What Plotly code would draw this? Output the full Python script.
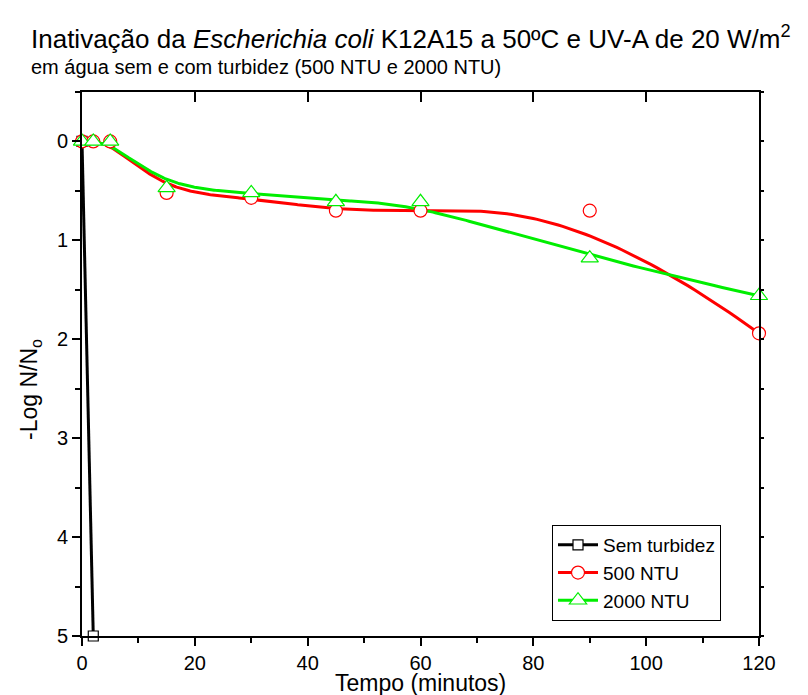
import numpy as np
import plotly.graph_objects as go

# Exposure time (minutes) and inactivation (-log N/No)
t_sem = [0, 2]
y_sem = [0, 5]

t_500 = [0, 2, 5, 15, 30, 45, 60, 90, 120]
y_500 = [0, 0, 0, 0.52, 0.57, 0.70, 0.70, 0.70, 1.94]

t_2000 = [0, 2, 5, 15, 30, 45, 60, 90, 120]
y_2000 = [0, 0, 0, 0.47, 0.52, 0.61, 0.61, 1.18, 1.56]

x_ticks = [0, 20, 40, 60, 80, 100, 120]
y_ticks = [0, 1, 2, 3, 4, 5]

FONT = "Liberation Sans"

# plot area in pixels
L, R, T, B = 82, 759, 92, 636
PW, PH = R - L, B - T


def px_x(p):
    return (p - L) / PW


def px_y(p):
    return (B - p) / PH


def bspline(xs, ys, degree=3, n=400):
    """Clamped uniform B-spline using the data points as control points."""
    P = np.column_stack([xs, ys]).astype(float)
    m = len(P)
    k = min(degree, m - 1)
    inner = np.arange(1, m - k) / (m - k)
    knots = np.concatenate([np.zeros(k + 1), inner, np.ones(k + 1)])
    u = np.linspace(0, 1, n)
    # Cox-de Boor recursion
    N = np.zeros((n, len(knots) - 1))
    for i in range(len(knots) - 1):
        N[:, i] = (u >= knots[i]) & (u < knots[i + 1])
    N[-1, m - 1] = 1.0
    for d in range(1, k + 1):
        Nn = np.zeros((n, len(knots) - 1 - d))
        for i in range(len(knots) - 1 - d):
            a = knots[i + d] - knots[i]
            b = knots[i + d + 1] - knots[i + 1]
            left = (u - knots[i]) / a * N[:, i] if a > 0 else 0
            right = (knots[i + d + 1] - u) / b * N[:, i + 1] if b > 0 else 0
            Nn[:, i] = left + right
        N = Nn
    C = N[:, :m] @ P
    return C[:, 0], C[:, 1]


fig = go.Figure()

series = [
    ("Sem turbidez", t_sem, y_sem, "black", "square", 10, False),
    ("500 NTU", t_500, y_500, "#ff0000", "circle", 13, True),
    ("2000 NTU", t_2000, y_2000, "#00ee00", "triangle-up", 15, True),
]

for name, xs, ys, col, sym, size, smooth in series:
    if smooth:
        cx, cy = bspline(xs, ys)
    else:
        cx, cy = xs, ys
    fig.add_trace(go.Scatter(x=cx, y=cy, mode="lines", showlegend=False,
                             line=dict(color=col, width=3), hoverinfo="skip"))

for name, xs, ys, col, sym, size, smooth in series:
    fig.add_trace(go.Scatter(x=xs, y=ys, mode="markers", showlegend=False,
                             marker=dict(symbol=sym, size=size, color="white",
                                         line=dict(color=col, width=1.2)),
                             cliponaxis=False))
    # legend entry (line + marker)
    fig.add_trace(go.Scatter(x=[None], y=[None], mode="lines+markers", name=name,
                             line=dict(color=col, width=3),
                             marker=dict(symbol=sym, size=size, color="white",
                                         line=dict(color=col, width=1.2))))

axis_common = dict(showgrid=False, zeroline=False, linecolor="black", linewidth=2,
                   tickcolor="black", tickwidth=2,
                   tickfont=dict(family=FONT, size=20, color="black"))

fig.update_layout(
    width=808, height=695,
    margin=dict(l=L, r=808 - R, t=T, b=695 - B),
    paper_bgcolor="white", plot_bgcolor="white",
    font=dict(family=FONT, color="black"),
    xaxis=dict(range=[0, 120], tickvals=x_ticks, ticks="outside", ticklen=8,
               minor=dict(dtick=10, ticks="outside", ticklen=5, tickwidth=2, tickcolor="black"),
               showline=True, **axis_common),
    yaxis=dict(range=[5, -0.5], tickvals=y_ticks, ticks="outside", ticklen=8,
               minor=dict(dtick=0.5, ticks="outside", ticklen=5, tickwidth=2, tickcolor="black"),
               showline=True, **axis_common),
    xaxis2=dict(range=[0, 120], overlaying="x", side="top", tickvals=x_ticks,
                ticks="inside", ticklen=10, showticklabels=False, showline=True,
                **axis_common),
    yaxis2=dict(range=[5, -0.5], overlaying="y", side="right", tickvals=y_ticks,
                ticks="outside", ticklen=3, showticklabels=False, showline=True,
                minor=dict(dtick=0.5, ticks="outside", ticklen=3, tickwidth=2, tickcolor="black"),
                **axis_common),
    legend=dict(x=px_x(552), y=px_y(525), xanchor="left", yanchor="top",
                bordercolor="black", borderwidth=1, bgcolor="white",
                font=dict(family=FONT, size=19, color="black"),
                tracegroupgap=0, itemwidth=40),
    annotations=[
        dict(text="Inativação da <i>Escherichia coli</i> K12A15 a 50ºC e UV-A de 20 W/m<sup>2</sup>",
             xref="paper", yref="paper", x=px_x(29), y=px_y(38),
             xanchor="left", yanchor="middle", showarrow=False,
             font=dict(family=FONT, size=26, color="black")),
        dict(text="em água sem e com turbidez (500 NTU e 2000 NTU)",
             xref="paper", yref="paper", x=px_x(29), y=px_y(67),
             xanchor="left", yanchor="middle", showarrow=False,
             font=dict(family=FONT, size=20, color="black")),
        dict(text="Tempo (minutos)", xref="paper", yref="paper",
             x=px_x(420), y=px_y(683), xanchor="center", yanchor="middle",
             showarrow=False, font=dict(family=FONT, size=23, color="black")),
        dict(text="-Log N/N<sub>o</sub>", xref="paper", yref="paper", textangle=-90,
             x=px_x(30), y=px_y(390), xanchor="center", yanchor="middle",
             showarrow=False, font=dict(family=FONT, size=23, color="black")),
    ],
)

# dummy trace to activate the mirrored top/right axes
fig.add_trace(go.Scatter(x=[None], y=[None], xaxis="x2", yaxis="y2", showlegend=False))

fig.write_html("out.html")
